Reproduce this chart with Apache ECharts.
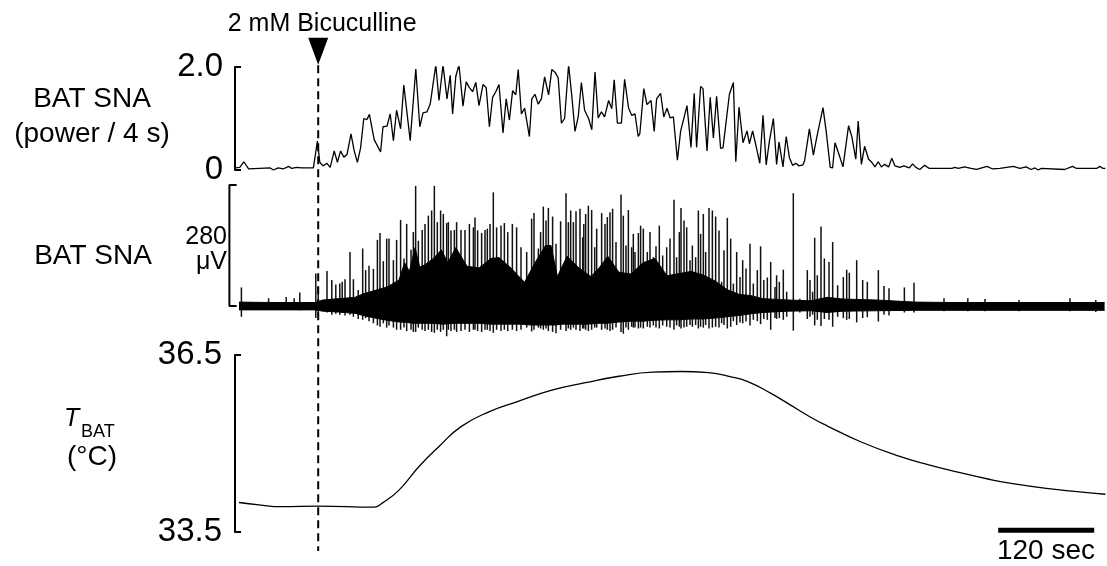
<!DOCTYPE html>
<html>
<head>
<meta charset="utf-8">
<title>BAT SNA - Bicuculline</title>
<script src="https://cdn.jsdelivr.net/npm/echarts@6/dist/echarts.min.js"></script>
<style>
  html, body { margin: 0; padding: 0; background: #fff; }
  #chart { width: 1107px; height: 566px; }
</style>
</head>
<body>
<div id="chart"></div>
<script>
/* DATOS (tiempo en s desde el inicio del registro) */
var injectionTime = 104;          // 2 mM Bicuculline
var timeMax = 1087.5;
var scaleBarStart = 954;          // barra de 120 s
var scaleBarLength = 120;
var rawScaleUV = 280;             // barra de 280 uV
var powerTicks = [0, 2.0];
var tempTicks = [33.5, 36.5];

/* BAT SNA (power / 4 s): [t, valor] */
var powerTrace = [
  [0,0.04],[6,0.05],[11,0.16],[17,0.02],[44,0.04],[48,0.0],[54,0.04],[60,0.02],[67,0.07],[71,0.03],
  [77,0.05],[83,0.04],[98,0.04],[103,0.56],[106,0.15],[110,0.08],[115,0.13],[119,0.05],[124,0.37],[128,0.15],
  [132,0.37],[136,0.25],[140,0.30],[145,0.70],[149,0.37],[153,0.15],[157,0.43],[161,1.0],[165,0.98],[168,1.08],
  [174,0.59],[182,0.35],[185,0.84],[190,0.85],[194,1.09],[198,0.57],[202,1.16],[207,0.80],[211,1.65],[219,0.57],
  [226,1.96],[231,0.84],[235,1.11],[240,1.13],[244,1.28],[251,2.04],[255,1.35],[260,2.04],[265,1.38],[269,1.84],
  [272,1.09],[276,1.82],[280,2.04],[285,1.24],[289,1.71],[293,1.60],[297,1.52],[301,1.70],[305,1.25],[310,1.66],
  [314,1.60],[318,0.84],[322,1.41],[326,1.52],[330,1.66],[335,0.72],[339,1.38],[343,0.97],[347,1.54],[351,1.46],
  [354,1.95],[358,1.09],[362,1.20],[368,0.65],[371,1.38],[375,1.47],[379,1.28],[383,1.38],[387,1.81],[392,1.46],
  [396,1.95],[400,1.90],[404,1.79],[408,0.91],[412,1.0],[417,2.04],[421,1.44],[425,0.75],[429,1.03],[433,1.70],
  [437,1.16],[442,1.0],[446,0.78],[450,1.90],[454,1.01],[458,1.13],[462,1.03],[467,1.35],[471,1.19],[474,1.75],
  [478,0.91],[483,0.91],[487,1.76],[492,1.20],[496,1.06],[500,1.09],[504,0.65],[506,0.70],[511,1.58],[515,1.27],
  [520,1.35],[524,0.75],[527,1.38],[532,1.49],[536,1.03],[540,1.20],[544,1.01],[548,1.03],[553,0.19],[557,0.75],
  [565,1.25],[570,0.44],[574,1.49],[577,0.44],[582,1.62],[585,1.58],[590,0.37],[594,1.41],[598,0.62],[602,1.43],
  [607,0.42],[610,0.43],[618,1.47],[623,1.70],[626,0.16],[630,1.22],[635,0.53],[640,0.76],[643,0.51],[647,0.76],
  [651,0.49],[656,0.13],[660,1.06],[664,0.10],[668,0.56],[673,1.0],[677,0.11],[680,0.54],[685,0.06],[689,0.65],
  [693,0.24],[697,0.09],[701,0.13],[705,0.08],[710,0.10],[712,0.18],[718,0.80],[723,0.29],[727,0.62],[729,0.63],
  [735,1.21],[739,0.75],[744,0.05],[747,0.04],[750,0.53],[755,0.30],[760,0.06],[767,0.86],[771,0.65],[776,0.21],
  [779,0.95],[783,0.11],[787,0.46],[792,0.21],[796,0.15],[800,0.06],[804,0.16],[808,0.06],[812,0.11],[817,0.06],
  [821,0.23],[825,0.08],[831,0.05],[836,0.08],[843,0.04],[847,0.12],[851,0.05],[856,0.01],[862,0.09],[868,0.03],
  [896,0.03],[900,0.05],[904,0.03],[912,0.06],[920,0.03],[927,0.01],[940,0.07],[947,0.02],[956,0.03],[973,0.07],
  [981,0.03],[989,0.06],[995,0.01],[1000,0.04],[1004,0.0],[1008,0.03],[1037,0.01],[1047,0.07],[1052,0.03],[1077,0.03],
  [1081,0.07],[1085,0.03],[1088,0.03]
];

/* BAT SNA crudo: banda densa (uV), limite superior e inferior */
var rawCoreHigh = [
  [5,9],[50,8],[100,8],[110,14],[130,17],[150,20],[160,28],[175,36],[190,44],[205,60],[212,100],[218,80],
  [225,135],[231,90],[237,95],[248,110],[258,130],[266,100],[276,135],[290,92],[305,88],[320,110],[330,112],
  [345,88],[354,70],[362,55],[375,100],[388,140],[395,140],[403,68],[415,115],[430,88],[445,68],[455,88],
  [466,115],[480,78],[495,74],[510,100],[525,110],[540,70],[555,75],[570,80],[585,72],[600,58],[615,38],
  [630,27],[645,24],[660,17],[690,14],[720,12],[740,20],[760,16],[800,14],[850,9],[900,8],[1000,8],[1087,8]
];
var rawCoreLow = [
  [5,-9],[50,-9],[100,-9],[110,-12],[130,-14],[150,-17],[160,-22],[175,-28],[190,-33],[205,-37],[215,-38],[222,-40],
  [230,-40],[245,-40],[260,-42],[275,-40],[290,-40],[305,-40],[320,-42],[335,-42],[350,-42],[358,-42],[370,-44],
  [385,-44],[392,-44],[400,-44],[410,-42],[425,-42],[440,-42],[455,-40],[465,-40],[480,-37],[495,-35],[510,-35],
  [525,-33],[540,-32],[555,-32],[570,-30],[585,-30],[600,-28],[615,-25],[630,-22],[645,-18],[660,-15],[690,-12],[720,-11],
  [740,-15],[760,-12],[800,-11],[850,-10],[900,-10],[1000,-10],[1087,-10]
];

/* BAT SNA crudo: espigas [t, maximo, minimo] */
var rawSpikes = [
  [8,43,-25],[42,18,-8],[64,21,-8],[74,18,-8],[81,31,-10],[101,75,-28],[104,45,-20],[115,81,-15],[121,60,-20],[126,50,-18],
  [131,52,-20],[134,56,-15],[137.5,62,-22],[143.75,125,-20],[148,62,-25],[154,37,-30],[159.6,133,-32],[163.3,83,-28],[167.5,93,-35],[173,86,-40],
  [178,153,-45],[181.25,169,-48],[185.4,104,-40],[189.6,156,-50],[192.5,156,-45],[198,106,-50],[202,153,-55],[207,199,-55],[211.25,110,-50],[214.6,190,-58],
  [220,130,-55],[222.9,171,-60],[225.8,278,-60],[229.2,151,-50],[234,176,-55],[237.5,190,-58],[241.7,209,-55],[245.8,221,-60],[249.2,278,-62],[252.9,194,-55],
  [257,221,-60],[260.4,213,-55],[264.6,192,-70],[266.7,194,-55],[270,175,-58],[274.2,176,-55],[277,194,-60],[282.5,176,-58],[287.5,176,-55],[293,190,-60],
  [298,182,-55],[300,205,-55],[303.3,175,-58],[308.3,169,-60],[312.5,176,-55],[315.4,179,-55],[318.75,190,-58],[322.9,263,-62],[327,182,-55],[332.5,186,-58],
  [336.7,192,-55],[340.9,171,-58],[346.7,190,-55],[352,182,-58],[357.5,136,-55],[364.6,125,-50],[370.8,202,-59],[373.75,215,-55],[379.2,133,-50],[382,171,-52],
  [385.4,230,-55],[388.75,198,-52],[391.7,227,-58],[397,207,-60],[401.25,144,-63],[407,196,-55],[413.75,261,-58],[416.7,194,-52],[419.6,221,-55],[423,194,-50],
  [426.25,219,-55],[431.25,225,-58],[434.6,159,-52],[436,190,-52],[438.3,213,-55],[441.7,232,-58],[445.8,222,-55],[449.6,136,-50],[452.1,179,-50],[458.3,215,-55],
  [462.5,190,-52],[465.4,206,-55],[468.75,217,-58],[472,225,-55],[476.25,148,-50],[482.5,258,-60],[485.4,209,-64],[488.75,140,-50],[491.7,222,-55],[495.8,136,-48],
  [497.9,167,-50],[500,125,-50],[504.2,169,-52],[507,186,-50],[510.4,179,-52],[515.4,125,-48],[518.75,171,-50],[522.9,113,-45],[526.25,138,-50],[530.4,186,-52],
  [534.6,117,-45],[539.6,136,-48],[543.75,156,-50],[548.75,246,-55],[552,113,-45],[555.4,171,-48],[557.5,227,-52],[561.25,198,-50],[564.6,182,-48],[568.75,106,-44],
  [571.7,140,-48],[575.8,113,-44],[579.2,221,-52],[582,167,-48],[585.4,213,-50],[588.3,125,-44],[592.5,227,-52],[596.7,221,-50],[600.8,207,-48],[605,175,-50],
  [608.3,56,-40],[611.25,129,-44],[615.4,204,-52],[619.6,156,-48],[623,52,-35],[627.1,125,-44],[631.25,67,-38],[634.6,106,-40],[638.75,87,-36],[643.75,144,-45],
  [647.9,52,-32],[652.9,83,-35],[657,138,-42],[661,60,-30],[665.4,66,-32],[669.6,102,-55],[675,44,-28],[677,71,-30],[680.4,56,-28],[685.4,84,-32],
  [689.6,33,-25],[697.9,261,-57],[706,17,-15],[715.4,83,-30],[718.75,60,-25],[722,33,-20],[724.6,158,-45],[727.9,71,-32],[732.5,184,-46],[736.7,110,-30],
  [742.5,102,-32],[747.1,148,-48],[753.3,48,-25],[760.4,67,-28],[764.6,84,-32],[767.9,77,-30],[777.1,106,-38],[784.6,60,-28],[790.4,56,-26],[804.2,83,-36],
  [811.25,46,-20],[817.5,41,-22],[836.7,43,-15],[848.75,54,-15],[886.25,18,-12],[916,18,-12],[937.5,16,-12],[980,14,-12],[1043.75,18,-12],[1076,14,-14]
];

/* T BAT (grados C): [t, valor] */
var tempTrace = [
  [5,34.00],[30,33.96],[58,33.93],[104,33.94],[174,33.92],[184,33.99],[205,34.21],[230,34.61],[255,34.95],[283,35.29],
  [318,35.54],[353,35.71],[395,35.90],[438,36.03],[480,36.14],[522,36.21],[557,36.22],[592,36.20],[620,36.13],[641,36.05],
  [670,35.85],[691,35.68],[719,35.45],[740,35.30],[782,35.03],[831,34.78],[866,34.64],[902,34.52],[944,34.39],[972,34.32],
  [1014,34.24],[1056,34.18],[1088,34.14]
];

var FONT = '"Liberation Sans", Arial, sans-serif';

function xEje(i, min) {
  return { type: 'value', gridIndex: i, min: min, max: timeMax, show: false };
}

function textoEje(texto, x, y, size, style) {
  return {
    type: 'text', x: x, y: y, silent: true,
    style: {
      text: texto, fill: '#000', textAlign: 'center', textVerticalAlign: 'middle',
      font: (style || '') + ' ' + size + 'px ' + FONT
    }
  };
}

var chart = echarts.init(document.getElementById('chart'), null, { renderer: 'canvas' });

var option = {
  backgroundColor: '#fff',
  animation: false,
  grid: [
    { left: 235, right: 2, top: 67, height: 103 },
    // el panel crudo empieza antes para que quepa la barra de 280 uV
    { left: 225, right: 2, top: 185, height: 151.25 },
    { left: 235, right: 2, top: 355, height: 177 },
    { left: 235, right: 2, top: 38, height: 513 }
  ],
  xAxis: [xEje(0, 0), xEje(1, -12.5), xEje(2, 0), xEje(3, 0)],
  yAxis: [
    {
      type: 'value', gridIndex: 0, min: powerTicks[0], max: powerTicks[1], interval: 2, offset: 3,
      splitLine: { show: false },
      axisLine: { show: true, lineStyle: { color: '#000', width: 2 } },
      axisTick: { show: true, inside: true, length: 6, lineStyle: { color: '#000', width: 2 } },
      axisLabel: {
        color: '#000', fontSize: 33, fontFamily: FONT, margin: 9,
        formatter: function (v) { return v === 0 ? '0' : v.toFixed(1); }
      }
    },
    { type: 'value', gridIndex: 1, min: -70, max: 280, show: false },
    {
      type: 'value', gridIndex: 2, min: tempTicks[0], max: tempTicks[1], interval: 3, offset: 8,
      splitLine: { show: false },
      axisLine: { show: true, lineStyle: { color: '#000', width: 2 } },
      axisTick: { show: true, inside: true, length: 6, lineStyle: { color: '#000', width: 2 } },
      axisLabel: {
        color: '#000', fontSize: 33, fontFamily: FONT, margin: 5,
        formatter: function (v) { return v.toFixed(1); }
      }
    },
    { type: 'value', gridIndex: 3, min: 0, max: 1, inverse: true, show: false }
  ],
  graphic: [
    textoEje('BAT SNA', 92, 99, 28),
    textoEje('(power / 4 s)', 92, 134, 28),
    textoEje('BAT SNA', 93, 256, 28),
    { type: 'text', x: 227, y: 237, silent: true,
      style: { text: '280', fill: '#000', textAlign: 'right', textVerticalAlign: 'middle', font: '25px ' + FONT } },
    { type: 'text', x: 227, y: 262, silent: true,
      style: { text: 'μV', fill: '#000', textAlign: 'right', textVerticalAlign: 'middle', font: '25px ' + FONT } },
    { type: 'text', x: 64, y: 419, silent: true,
      style: { text: 'T', fill: '#000', textAlign: 'left', textVerticalAlign: 'middle', font: 'italic 25px ' + FONT } },
    { type: 'text', x: 81, y: 432, silent: true,
      style: { text: 'BAT', fill: '#000', textAlign: 'left', textVerticalAlign: 'middle', font: '18px ' + FONT } },
    textoEje('(°C)', 92, 457, 28),
    textoEje('120 sec', 1046, 551, 28)
  ],
  series: [
    {
      // potencia integrada cada 4 s
      type: 'line', xAxisIndex: 0, yAxisIndex: 0, data: powerTrace,
      symbol: 'none', lineStyle: { color: '#000', width: 1.3 }
    },
    {
      // banda densa superior
      type: 'line', xAxisIndex: 1, yAxisIndex: 1, data: rawCoreHigh,
      symbol: 'none', lineStyle: { color: '#000', width: 1 }, areaStyle: { color: '#000', opacity: 1 }
    },
    {
      // banda densa inferior
      type: 'line', xAxisIndex: 1, yAxisIndex: 1, data: rawCoreLow,
      symbol: 'none', lineStyle: { color: '#000', width: 1 }, areaStyle: { color: '#000', opacity: 1 }
    },
    {
      // espigas individuales
      type: 'custom', xAxisIndex: 1, yAxisIndex: 1, data: rawSpikes,
      encode: { x: 0, y: [1, 2] },
      renderItem: function (params, api) {
        var arriba = api.coord([api.value(0), api.value(1)]);
        var abajo = api.coord([api.value(0), api.value(2)]);
        return {
          type: 'line',
          shape: { x1: arriba[0], y1: arriba[1], x2: abajo[0], y2: abajo[1] },
          style: { stroke: '#111', lineWidth: 1.5 }
        };
      }
    },
    {
      // barra de escala 280 uV
      type: 'line', xAxisIndex: 1, yAxisIndex: 1, symbol: 'none',
      data: [[2, rawScaleUV], [-7, rawScaleUV], [-7, 0], [2, 0]],
      lineStyle: { color: '#000', width: 2 }
    },
    {
      // temperatura BAT
      type: 'line', xAxisIndex: 2, yAxisIndex: 2, data: tempTrace,
      symbol: 'none', smooth: 0.5, lineStyle: { color: '#000', width: 1.3 }
    },
    {
      // barra de escala 120 s
      type: 'line', xAxisIndex: 2, yAxisIndex: 2, clip: false, symbol: 'none',
      data: [[scaleBarStart, 33.53], [scaleBarStart + scaleBarLength, 33.53]],
      lineStyle: { color: '#000', width: 5, cap: 'butt' }
    },
    {
      // linea de inyeccion
      type: 'line', xAxisIndex: 3, yAxisIndex: 3, symbol: 'none',
      data: [[injectionTime, 0.053], [injectionTime, 1]],
      lineStyle: { color: '#000', width: 2, type: [8, 5] }
    },
    {
      // flecha y texto de la inyeccion
      type: 'scatter', xAxisIndex: 3, yAxisIndex: 3,
      data: [[injectionTime, 0.026]],
      symbol: 'triangle', symbolRotate: 180, symbolSize: [20, 27],
      itemStyle: { color: '#000', opacity: 1 },
      label: {
        show: true, position: 'top', distance: 1, offset: [4, 0],
        formatter: '2 mM Bicuculline', color: '#000', fontSize: 25, fontFamily: FONT
      }
    }
  ]
};

chart.setOption(option);
</script>
</body>
</html>
